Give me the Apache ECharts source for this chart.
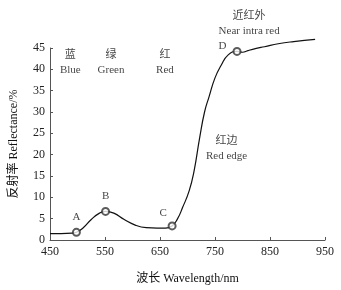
<!DOCTYPE html>
<html>
<head>
<meta charset="utf-8">
<script src="https://cdn.jsdelivr.net/npm/echarts@6/dist/echarts.min.js"></script>
<style>
  html, body { margin: 0; padding: 0; background: #fff; }
  #chart { width: 341px; height: 290px; }
</style>
</head>
<body>
<div id="chart"></div>
<script>
// spectrum curve
var wavelengths = [450, 470, 490, 498, 510, 525, 540, 551, 566, 585, 605, 625, 645, 660, 672, 682, 691, 703, 712, 722, 731, 739, 750, 761, 774, 790, 800, 810, 825, 840, 865, 893, 932];
var reflectance = [1.5, 1.5, 1.6, 1.8, 2.8, 4.8, 6.3, 6.7, 6.3, 4.8, 3.5, 2.9, 2.8, 2.8, 3.3, 5.0, 7.6, 11.5, 16.2, 23.9, 30.0, 33.5, 38.0, 40.9, 43.4, 44.2, 44.0, 44.4, 44.9, 45.3, 46.0, 46.5, 47.0];

// marked points A-D
var pointNames = ['A', 'B', 'C', 'D'];
var pointX = [498, 551, 672, 790];
var pointY = [1.8, 6.7, 3.3, 44.2];

// region notes
var noteText = ['蓝\nBlue', '绿\nGreen', '红\nRed', '近红外\nNear intra red', '红边\nRed edge'];
var noteX = [487, 561, 659, 812, 771];
var noteY = [41.5, 41.5, 41.5, 50.8, 21.5];

var xTicks = [450, 550, 650, 750, 850, 950];

var font = 'Liberation Serif, Noto Sans CJK SC, serif';

var chartDom = document.getElementById('chart');
var myChart = echarts.init(chartDom);

var lineData = wavelengths.map(function (w, i) { return [w, reflectance[i]]; });
var labelPos = ['top', 'top', ['-8', '-14'], ['-14', '-6']];
var pointData = pointNames.map(function (n, i) {
    return {
        value: [pointX[i], pointY[i]],
        name: n,
        label: { position: labelPos[i] }
    };
});
var noteData = noteText.map(function (t, i) { return [noteX[i], noteY[i], t]; });

var option = {
    animation: false,
    textStyle: { fontFamily: font },
    grid: { left: 45, right: 16, top: 48, bottom: 47 },
    xAxis: {
        type: 'value',
        min: xTicks[0],
        max: xTicks[xTicks.length - 1],
        interval: 100,
        name: '波长 Wavelength/nm',
        nameLocation: 'middle',
        nameGap: 33,
        nameTextStyle: { fontSize: 12, color: '#111', fontFamily: font },
        axisLine: { lineStyle: { color: '#555', width: 1 } },
        axisTick: { inside: true, length: 3, lineStyle: { color: '#555' } },
        axisLabel: { fontSize: 12, color: '#222', margin: 6, fontFamily: font },
        splitLine: { show: false }
    },
    yAxis: {
        type: 'value',
        min: 0,
        max: 45,
        interval: 5,
        name: '反射率 Reflectance/%',
        nameLocation: 'middle',
        nameGap: 30,
        nameTextStyle: { fontSize: 12, color: '#111', fontFamily: font },
        axisLine: { show: true, lineStyle: { color: '#555', width: 1 } },
        axisTick: { show: true, inside: true, length: 3, lineStyle: { color: '#555' } },
        axisLabel: { fontSize: 12, color: '#222', margin: 5, fontFamily: font },
        splitLine: { show: false }
    },
    series: [
        {
            type: 'line',
            data: lineData,
            smooth: true,
            showSymbol: false,
            clip: false,
            lineStyle: { color: '#111', width: 1.2 }
        },
        {
            type: 'scatter',
            data: pointData,
            symbol: 'emptyCircle',
            symbolSize: 7,
            clip: false,
            itemStyle: { color: '#333', borderColor: '#333', borderWidth: 0.8 },
            label: {
                show: true,
                formatter: '{b}',
                fontSize: 11,
                color: '#111',
                distance: 5,
                fontFamily: font
            },
            z: 5
        },
        {
            type: 'scatter',
            data: noteData,
            symbolSize: 0,
            clip: false,
            silent: true,
            label: {
                show: true,
                position: 'inside',
                formatter: function (p) { return p.data[2]; },
                fontSize: 11,
                lineHeight: 15,
                color: '#111',
                align: 'center',
                fontFamily: font
            }
        }
    ]
};

myChart.setOption(option);
</script>
</body>
</html>
